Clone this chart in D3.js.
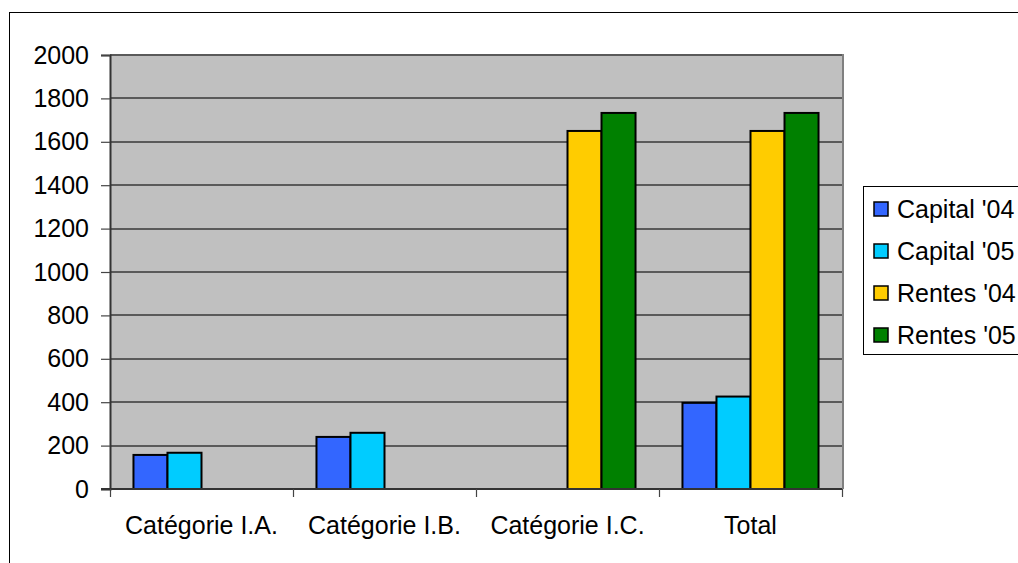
<!DOCTYPE html>
<html>
<head>
<meta charset="utf-8">
<script src="https://cdn.jsdelivr.net/npm/d3@7"></script>
<style>
  html, body { margin: 0; padding: 0; background: #fff; }
  svg { display: block; font-family: "Liberation Sans", Arial, sans-serif; }
</style>
</head>
<body>
<svg id="chart" width="1018" height="563"></svg>
<script>
// Categories, series and values
const categories = ["Catégorie I.A.", "Catégorie I.B.", "Catégorie I.C.", "Total"];
const seriesNames = ["Capital '04", "Capital '05", "Rentes '04", "Rentes '05"];
const seriesColors = ["#3366FF", "#00CCFF", "#FFCC00", "#008000"];
const capital04 = [157, 240, null, 397];
const capital05 = [167, 259, null, 426];
const rentes04 = [null, null, 1650, 1650];
const rentes05 = [null, null, 1733, 1733];
const yTicks = [0, 200, 400, 600, 800, 1000, 1200, 1400, 1600, 1800, 2000];

const seriesValues = [capital04, capital05, rentes04, rentes05];

const svg = d3.select("#chart");
const W = 1018, H = 563;
const plot = { left: 110, right: 842, top: 55, bottom: 489 };

// Outer chart frame (runs off the right and bottom edges)
svg.append("rect")
  .attr("x", 9.5).attr("y", 12.5)
  .attr("width", W + 20).attr("height", H + 20)
  .attr("fill", "#fff").attr("stroke", "#000").attr("stroke-width", 1);

const x0 = d3.scaleBand().domain(categories).range([plot.left, plot.right]).padding(0);
const x1 = d3.scaleBand().domain(seriesNames).range([0, x0.bandwidth()])
  .paddingInner(0).paddingOuter(0.69);
const y = d3.scaleLinear().domain([0, 2000]).range([plot.bottom, plot.top]);

// Plot background
svg.append("rect")
  .attr("x", plot.left).attr("y", plot.top)
  .attr("width", plot.right - plot.left).attr("height", plot.bottom - plot.top)
  .attr("fill", "#C0C0C0");

// Horizontal gridlines
svg.append("g").selectAll("line").data(yTicks.filter(d => d > 0)).join("line")
  .attr("x1", plot.left).attr("x2", plot.right)
  .attr("y1", d => Math.round(y(d))).attr("y2", d => Math.round(y(d)))
  .attr("stroke", "#5a5a5a").attr("stroke-width", 2);

// Right edge of plot area
svg.append("line")
  .attr("x1", plot.right + 1).attr("x2", plot.right + 1)
  .attr("y1", plot.top - 1).attr("y2", plot.bottom)
  .attr("stroke", "#808080").attr("stroke-width", 2);

// Bars
const bars = [];
categories.forEach((c, ci) => {
  seriesNames.forEach((s, si) => {
    const v = seriesValues[si][ci];
    if (v != null) bars.push({ c, s, v, color: seriesColors[si] });
  });
});
svg.append("g").selectAll("rect").data(bars).join("rect")
  .attr("x", d => x0(d.c) + x1(d.s))
  .attr("y", d => y(d.v))
  .attr("width", x1.bandwidth())
  .attr("height", d => y(0) - y(d.v))
  .attr("fill", d => d.color)
  .attr("stroke", "#000").attr("stroke-width", 2);

// Y axis
const yAxis = svg.append("g")
  .attr("transform", `translate(${plot.left},0)`)
  .call(d3.axisLeft(y).tickValues(yTicks).tickSize(9).tickPadding(12).tickFormat(d3.format("d")));
yAxis.select(".domain").attr("stroke", "#333").attr("stroke-width", 2);
yAxis.selectAll(".tick line").attr("stroke", "#444").attr("stroke-width", 1.2);
yAxis.selectAll(".tick text")
  .attr("font-size", 25).attr("fill", "#000")
  .attr("font-family", "'Liberation Sans', Arial, sans-serif");

// X axis with ticks at category boundaries
const xAxisG = svg.append("g").attr("transform", `translate(0,${plot.bottom})`);
xAxisG.append("line")
  .attr("x1", plot.left - 9).attr("x2", plot.right)
  .attr("stroke", "#333").attr("stroke-width", 2);
const boundaries = categories.map(c => x0(c)).concat([plot.right]);
xAxisG.selectAll(".bt").data(boundaries).join("line")
  .attr("class", "bt")
  .attr("x1", d => Math.round(d) + 0.5).attr("x2", d => Math.round(d) + 0.5)
  .attr("y1", 0).attr("y2", 8)
  .attr("stroke", "#444").attr("stroke-width", 1.2);
xAxisG.selectAll("text").data(categories).join("text")
  .attr("x", d => x0(d) + x0.bandwidth() / 2)
  .attr("y", 45)
  .attr("text-anchor", "middle")
  .attr("font-size", 25).attr("fill", "#000")
  .text(d => d);

// Legend (box runs past the right edge)
const legend = svg.append("g");
legend.append("rect")
  .attr("x", 863.5).attr("y", 186.5)
  .attr("width", 200).attr("height", 168)
  .attr("fill", "#fff").attr("stroke", "#000").attr("stroke-width", 1);
const items = legend.selectAll("g.item").data(seriesNames).join("g")
  .attr("class", "item")
  .attr("transform", (d, i) => `translate(0,${209 + i * 42})`);
items.append("rect")
  .attr("x", 874).attr("y", -7).attr("width", 14).attr("height", 14)
  .attr("fill", (d, i) => seriesColors[i])
  .attr("stroke", "#000").attr("stroke-width", 1.5);
items.append("text")
  .attr("x", 897).attr("y", 8.5)
  .attr("font-size", 25).attr("fill", "#000")
  .text(d => d);
</script>
</body>
</html>
